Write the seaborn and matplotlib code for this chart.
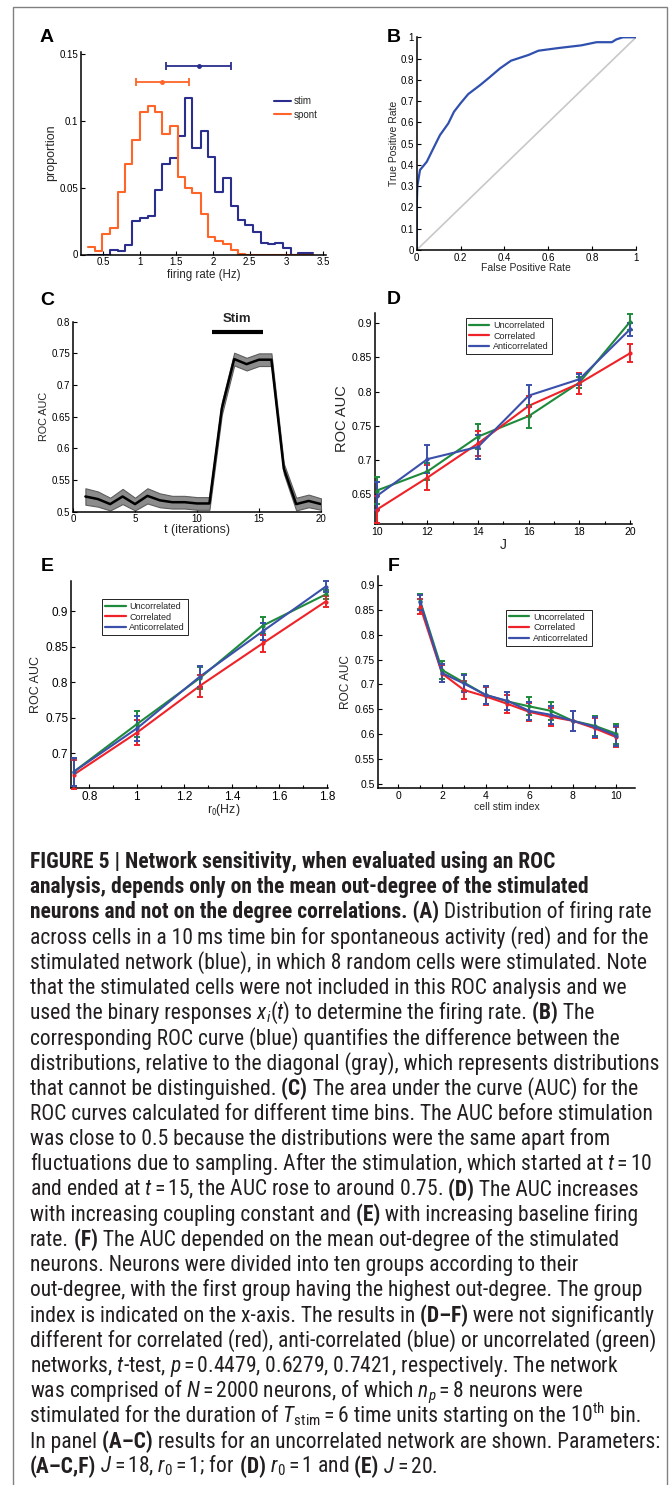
import matplotlib
matplotlib.use("Agg")
import matplotlib.pyplot as plt
import numpy as np
import pandas as pd
import seaborn as sns
from matplotlib import font_manager as fm
from matplotlib.lines import Line2D
from matplotlib.patches import Rectangle
from matplotlib.ticker import FuncFormatter, MultipleLocator

# -------------------------------------------------------------------
# DATA
# -------------------------------------------------------------------

# --- A: firing rate histograms ---
bin_edges = [0.29, 0.39, 0.49, 0.60, 0.70, 0.80, 0.90, 1.01, 1.11, 1.21, 1.31,
             1.42, 1.52, 1.62, 1.72, 1.83, 1.93, 2.03, 2.13, 2.24, 2.34, 2.44,
             2.54, 2.65, 2.75, 2.85, 2.95, 3.06, 3.16, 3.26, 3.36]
spont_prop = [0.0055, 0.0025, 0.0154, 0.020, 0.047, 0.068, 0.086, 0.107, 0.111, 0.107,
              0.090, 0.0965, 0.058, 0.050, 0.046, 0.030, 0.013, 0.010, 0.008, 0.003,
              0.0005, 0, 0, 0, 0, 0, 0, 0, 0, 0]
stim_prop = [0, 0, 0, 0.0037, 0.0025, 0.007, 0.025, 0.027, 0.029, 0.048,
             0.068, 0.072, 0.089, 0.117, 0.080, 0.0925, 0.073, 0.047, 0.057, 0.036,
             0.026, 0.022, 0.017, 0.0087, 0.0075, 0.0087, 0.005, 0, 0.0012, 0.0012]
# mean and spread markers above the histograms (mean, low, high, height)
stim_summary = [1.805, 1.355, 2.25, 0.1413]
spont_summary = [1.309, 0.945, 1.673, 0.129]

# --- B: ROC curve ---
fpr = [0, 0, 0.003, 0.015, 0.046, 0.076, 0.106, 0.144, 0.17, 0.2, 0.235, 0.29, 0.33,
       0.38, 0.43, 0.51, 0.555, 0.65, 0.75, 0.82, 0.89, 0.91, 0.94, 1.0]
tpr = [0, 0.2, 0.3, 0.376, 0.415, 0.478, 0.54, 0.595, 0.65, 0.69, 0.733, 0.776, 0.81,
       0.854, 0.89, 0.917, 0.937, 0.95, 0.962, 0.977, 0.977, 0.99, 1.0, 1.0]

# --- C: AUC over time ---
t_iter = list(range(1, 21))
auc_t = [0.524, 0.520, 0.512, 0.524, 0.512, 0.525, 0.518, 0.515, 0.515, 0.513,
         0.513, 0.663, 0.741, 0.733, 0.740, 0.740, 0.568, 0.512, 0.517, 0.512]
auc_t_sem = [0.013, 0.012, 0.010, 0.012, 0.010, 0.012, 0.011, 0.010, 0.010, 0.010,
             0.010, 0.010, 0.010, 0.010, 0.010, 0.010, 0.008, 0.010, 0.010, 0.009]
stim_window = [11.2, 15.3]

series_names = ['Uncorrelated', 'Correlated', 'Anticorrelated']

# --- D: AUC vs J ---
J_vals = [10, 12, 14, 16, 18, 20]
D_unc = [0.655, 0.683, 0.734, 0.764, 0.813, 0.902]
D_cor = [0.627, 0.674, 0.724, 0.779, 0.812, 0.856]
D_anti = [0.647, 0.701, 0.719, 0.794, 0.818, 0.891]
D_unc_err = [0.020, 0.012, 0.018, 0.017, 0.008, 0.012]
D_cor_err = [0.020, 0.018, 0.018, 0.015, 0.015, 0.013]
D_anti_err = [0.020, 0.020, 0.018, 0.016, 0.008, 0.010]

# --- E: AUC vs r0 ---
r0_vals = [0.735, 1.0, 1.265, 1.53, 1.795]
E_unc = [0.674, 0.741, 0.806, 0.880, 0.924]
E_cor = [0.670, 0.729, 0.795, 0.855, 0.914]
E_anti = [0.674, 0.735, 0.808, 0.872, 0.935]
E_unc_err = [0.020, 0.018, 0.015, 0.012, 0.007]
E_cor_err = [0.020, 0.018, 0.015, 0.012, 0.008]
E_anti_err = [0.020, 0.018, 0.015, 0.012, 0.008]

# --- F: AUC vs cell stim index ---
stim_index = list(range(1, 11))
F_unc = [0.867, 0.729, 0.704, 0.679, 0.666, 0.656, 0.647, 0.627, 0.617, 0.601]
F_cor = [0.856, 0.722, 0.689, 0.676, 0.661, 0.645, 0.635, 0.627, 0.612, 0.594]
F_anti = [0.865, 0.723, 0.702, 0.679, 0.667, 0.647, 0.639, 0.627, 0.615, 0.597]
F_err = [0.015, 0.018, 0.018, 0.018, 0.018, 0.018, 0.018, 0.020, 0.020, 0.020]

# ** toggles bold, || only splits a run (keeps text boxes tight)
caption_lines = [
    "**FIGURE 5 | Network sensitivity, when evaluated using an ROC**",
    "**analysis, depends only on the mean out-degree of the stimulated**",
    "**neurons and not on the degree correlations. (A)** Distribution of firing rate",
    "across cells in a 10\u2009ms time bin for spontaneous activity (red) and for the",
    "stimulated network (blue), in which 8 random cells were stimulated. Note",
    "that the stimulated cells were not included in this ROC analysis and we",
    "used the binary responses ||$x_i(t)$|| to determine the firing rate. **(B)** The",
    "corresponding ROC curve (blue) quantifies the difference between the",
    "distributions, relative to the diagonal (gray), which represents distributions",
    "that cannot be distinguished. **(C)** The area under the curve (AUC) for the",
    "ROC curves calculated for different time bins. The AUC before stimulation",
    "was close to 0.5 because the distributions were the same apart from",
    "fluctuations due to sampling. After the stimulation, which started at $t=10$",
    "and ended at $t=15$, the AUC rose to around 0.75. **(D)** The AUC increases",
    "with increasing coupling constant and **(E)** with increasing baseline firing",
    "rate. **(F)** The AUC depended on the mean out-degree of the stimulated",
    "neurons. Neurons were divided into ten groups according to their",
    "out-degree, with the first group having the highest out-degree. The group",
    "index is indicated on the x-axis. The results in **(D\u2013F)** were not significantly",
    "different for correlated (red), anti-correlated (blue) or uncorrelated (green)",
    "networks, $t$-test, $p=0.4479$, 0.6279, 0.7421, respectively. The network",
    "was comprised of $N=2000$ neurons, of which ||$n_p=8$|| neurons were",
    r"stimulated for the duration of ||$T_{\mathrm{stim}}=6$|| time units starting on the ||10$^{\mathrm{th}}$|| bin.",
    "In panel **(A\u2013C)** results for an uncorrelated network are shown. Parameters:",
    "**(A\u2013C,F)** $J=18$, $r_0=1$; for **(D)** $r_0=1$ and **(E)** $J=20$.",
]

# -------------------------------------------------------------------
# STYLE
# -------------------------------------------------------------------
sns.set_theme(style="ticks")
plt.rcParams['font.family'] = ['Liberation Sans', 'DejaVu Sans']

names = {f.name for f in fm.fontManager.ttflist}
cap_family = next((n for n in ['Liberation Sans Narrow', 'Roboto Condensed',
                               'DejaVu Sans Condensed'] if n in names), 'Liberation Sans')
plt.rcParams.update({
    'mathtext.fontset': 'custom',
    'mathtext.rm': cap_family,
    'mathtext.it': cap_family + ':italic',
    'mathtext.bf': cap_family + ':bold',
})

c_stim = '#2a2e8c'
c_spont = '#ff6428'
c_roc = '#3050ae'
c_green = '#1e8a3c'
c_red = '#ee2228'
c_blue = '#3a50aa'

W, H = 671, 1485
fig = plt.figure(figsize=(W / 100, H / 100), dpi=100)
fig.patch.set_facecolor('white')


def add_ax(l, t, r, b):
    return fig.add_axes([l / W, 1 - b / H, (r - l) / W, (b - t) / H])


gfmt = FuncFormatter(lambda v, p: f'{v:g}')


def matlab_axes(ax, labelsize):
    sns.despine(ax=ax)
    for s in ['left', 'bottom']:
        ax.spines[s].set_linewidth(1.1)
        ax.spines[s].set_color('black')
    ax.tick_params(which='both', direction='in', width=0.8, labelsize=labelsize,
                   pad=2, colors='black')
    ax.tick_params(which='major', length=3)
    ax.tick_params(which='minor', length=2.5)
    ax.xaxis.set_major_formatter(gfmt)
    ax.yaxis.set_major_formatter(gfmt)
    ax.set_facecolor('white')


def panel_letter(x, y, s):
    fig.text(x / W, 1 - y / H, s, fontsize=14, fontweight='bold', ha='center',
             va='baseline', color='black')


# -------------------------------------------------------------------
# A: histograms
# -------------------------------------------------------------------
ax = add_ax(81, 51.7, 326, 254.5)
centers = [(a + b) / 2 for a, b in zip(bin_edges[:-1], bin_edges[1:])]
sns.histplot(x=centers, weights=stim_prop, bins=bin_edges, element='step', fill=False,
             color=c_stim, lw=1.5, ax=ax)
sns.histplot(x=centers, weights=spont_prop, bins=bin_edges, element='step', fill=False,
             color=c_spont, lw=1.5, ax=ax)
for summ, col in [(stim_summary, c_stim), (spont_summary, c_spont)]:
    m, lo, hi, yy = summ
    ax.errorbar([m], [yy], xerr=[[m - lo], [hi - m]], fmt='o', ms=2.5, color=col,
                capsize=3, elinewidth=1.3, capthick=1.3, clip_on=False)
ax.set_xlim(0.2, 3.54)
ax.set_ylim(0, 0.152)
ax.set_xticks([0.5, 1, 1.5, 2, 2.5, 3, 3.5])
ax.set_yticks([0, 0.05, 0.1, 0.15])
matlab_axes(ax, 7)
ax.set_xlabel('firing rate (Hz)', fontsize=8.3, labelpad=1)
ax.set_ylabel('proportion', fontsize=9, labelpad=2)
ax.legend(handles=[Line2D([], [], color=c_stim, lw=1.5), Line2D([], [], color=c_spont, lw=1.5)],
          labels=['stim', 'spont'], frameon=False, fontsize=7, handlelength=1.8,
          handletextpad=0.3, labelspacing=0.35, loc='upper left',
          bbox_to_anchor=(0.77, 0.8), borderaxespad=0)
panel_letter(47, 42, 'A')

# -------------------------------------------------------------------
# B: ROC curve
# -------------------------------------------------------------------
ax = add_ax(416.7, 37.3, 636, 250)
sns.lineplot(x=[0, 1], y=[0, 1], color='#c8c8c8', lw=1.2, ax=ax)
sns.lineplot(x=fpr, y=tpr, color=c_roc, lw=1.6, estimator=None, sort=False, ax=ax)
ax.set_xlim(0, 1)
ax.set_ylim(0, 1)
ax.set_xticks(np.arange(0, 1.01, 0.2))
ax.set_yticks(np.arange(0, 1.01, 0.1))
matlab_axes(ax, 7)
ax.set_xlabel('False Positive Rate', fontsize=7.5, labelpad=0)
ax.set_ylabel('True Positive Rate', fontsize=7.5, labelpad=1)
panel_letter(394, 42, 'B')

# -------------------------------------------------------------------
# C: AUC over time
# -------------------------------------------------------------------
ax = add_ax(73, 321.7, 321, 511.7)
lo = [a - s for a, s in zip(auc_t, auc_t_sem)]
hi = [a + s for a, s in zip(auc_t, auc_t_sem)]
ax.fill_between(t_iter, lo, hi, color='#8c8c8c', edgecolor='#5e5e5e', lw=0.8)
sns.lineplot(x=t_iter, y=auc_t, color='black', lw=1.8, ax=ax)
ax.plot(stim_window, [0.784, 0.784], color='black', lw=3, solid_capstyle='butt',
        clip_on=False)
ax.text(sum(stim_window) / 2, 0.805, 'Stim', fontsize=9.5, fontweight='bold',
        ha='center', va='center')
ax.set_xlim(0, 20)
ax.set_ylim(0.5, 0.8)
ax.set_xticks([0, 5, 10, 15, 20])
ax.set_yticks(np.arange(0.5, 0.801, 0.05))
matlab_axes(ax, 7)
ax.set_xlabel('t (iterations)', fontsize=8.9, labelpad=0)
ax.set_ylabel('ROC AUC', fontsize=7.8, labelpad=2)
panel_letter(47, 305, 'C')


def three_series(ax, x, ys, errs, lw=1.5):
    for name, y, e, col in zip(series_names, ys, errs, [c_green, c_red, c_blue]):
        sns.lineplot(x=x, y=y, color=col, lw=lw, estimator=None, label=name, ax=ax)
        ax.errorbar(x, y, yerr=e, fmt='.', ms=4, color=col, elinewidth=1.4,
                    capsize=2.3, capthick=1.4, clip_on=False, zorder=3)


def framed_legend(ax, anchor, fs=6.5):
    handles = [Line2D([], [], color=c, lw=1.6) for c in [c_green, c_red, c_blue]]
    leg = ax.legend(handles=handles, labels=series_names, loc='upper left',
                    bbox_to_anchor=anchor, borderaxespad=0, fontsize=fs,
                    handlelength=2.3, handletextpad=0.4, labelspacing=0.2,
                    borderpad=0.3, fancybox=False, framealpha=1)
    leg.get_frame().set_edgecolor('black')
    leg.get_frame().set_linewidth(0.6)


# -------------------------------------------------------------------
# D: AUC vs J
# -------------------------------------------------------------------
ax = add_ax(375, 313, 632, 524)
three_series(ax, J_vals, [D_unc, D_cor, D_anti], [D_unc_err, D_cor_err, D_anti_err])
ax.set_xlim(9.93, 20.08)
ax.set_ylim(0.606, 0.915)
ax.set_xticks([10, 12, 14, 16, 18, 20])
ax.xaxis.set_minor_locator(MultipleLocator(1))
ax.set_yticks([0.65, 0.7, 0.75, 0.8, 0.85, 0.9])
matlab_axes(ax, 7.5)
ax.set_xlabel('J', fontsize=10, labelpad=1)
ax.set_ylabel('ROC AUC', fontsize=10.5, labelpad=2)
framed_legend(ax, (0.354, 0.976))
panel_letter(394, 304, 'D')

# -------------------------------------------------------------------
# E: AUC vs r0
# -------------------------------------------------------------------
ax = add_ax(71, 581, 328, 788)
three_series(ax, r0_vals, [E_unc, E_cor, E_anti], [E_unc_err, E_cor_err, E_anti_err])
ax.set_xlim(0.723, 1.805)
ax.set_ylim(0.651, 0.943)
ax.set_xticks([0.8, 1.0, 1.2, 1.4, 1.6, 1.8])
ax.xaxis.set_minor_locator(MultipleLocator(0.1))
ax.set_yticks([0.7, 0.75, 0.8, 0.85, 0.9])
matlab_axes(ax, 8.5)
ax.set_xlabel(r'r$_0$(Hz)', fontsize=8.9)
ax.xaxis.set_label_coords(0.595, -0.066)
ax.set_ylabel('ROC AUC', fontsize=9, labelpad=2)
framed_legend(ax, (0.121, 0.913))
panel_letter(47, 571, 'E')

# -------------------------------------------------------------------
# F: AUC vs cell stim index
# -------------------------------------------------------------------
ax = add_ax(378, 576, 635, 788)
three_series(ax, stim_index, [F_unc, F_cor, F_anti], [F_err, F_err, F_err])
ax.set_xlim(-0.94, 10.85)
ax.set_ylim(0.492, 0.918)
ax.set_xticks([0, 2, 4, 6, 8, 10])
ax.xaxis.set_minor_locator(MultipleLocator(1))
ax.set_yticks(np.arange(0.5, 0.901, 0.05))
matlab_axes(ax, 7.5)
ax.set_xlabel('cell stim index', fontsize=7.5, labelpad=1)
ax.set_ylabel('ROC AUC', fontsize=8.6, labelpad=2)
framed_legend(ax, (0.498, 0.84))
panel_letter(394, 571, 'F')

# -------------------------------------------------------------------
# CAPTION (rich text, laid out run by run)
# -------------------------------------------------------------------
renderer = fig.canvas.get_renderer()


def put_line(line, x0, y0, fs):
    runs = []
    for i, part in enumerate(line.split('**')):
        for piece in part.split('||'):
            if piece:
                runs.append((piece, i % 2 == 1))
    texts, x, space = [], x0, False
    for piece, bold in runs:
        s = (' ' if space else '') + piece
        space = s.endswith(' ')
        s = s.rstrip(' ')
        t = fig.text(x / W, 1 - y0 / H, s, fontsize=fs, family=[cap_family, 'DejaVu Sans'],
                     fontweight='bold' if bold else 'normal', ha='left',
                     va='baseline', color='#231f20')
        x += t.get_window_extent(renderer).width
        texts.append(t)
    return texts, x


probe, x_end = put_line(caption_lines[2], 30, 0, 12)
for t in probe:
    t.remove()
cap_fs = 12 * 624 / (x_end - 30)

for k, line in enumerate(caption_lines):
    put_line(line, 30, 868 + k * 25.2, cap_fs)

# frame round the whole figure
fig.add_artist(Rectangle((12.5 / W, -0.01), (667 - 12.5) / W, 1.01 - 7 / H,
                         transform=fig.transFigure, fill=False,
                         edgecolor='#808080', lw=1))

fig.savefig('out.png', dpi=100)
